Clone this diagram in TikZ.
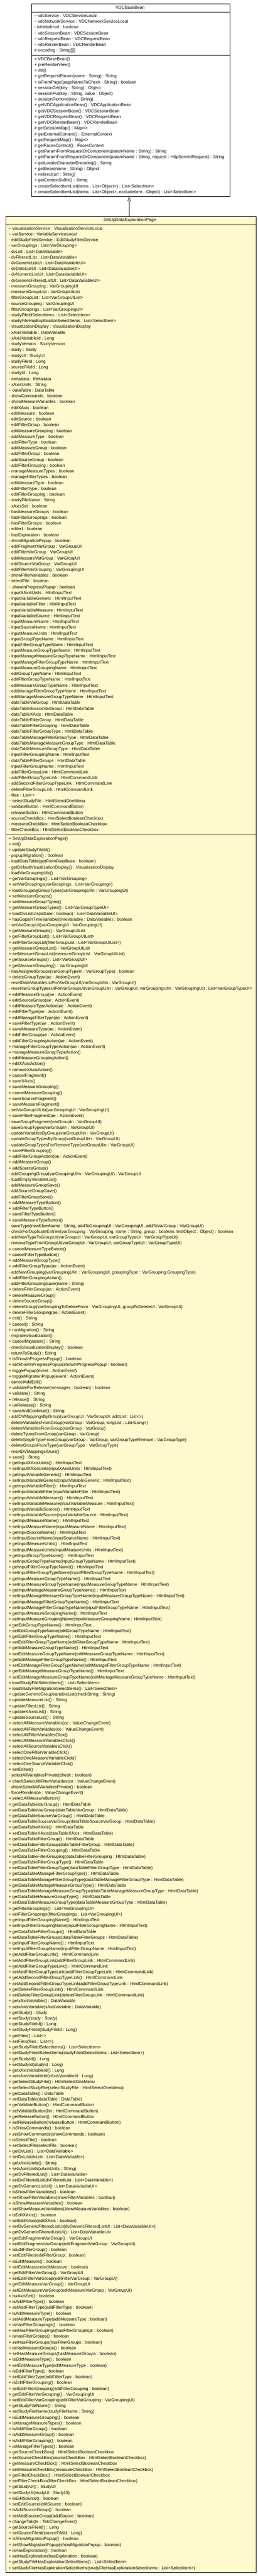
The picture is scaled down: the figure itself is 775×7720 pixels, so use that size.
\documentclass[tikz,border=0pt]{standalone}
\usepackage{fontspec}
\setmainfont{Liberation Sans}
\usetikzlibrary{arrows.meta}
\definecolor{beanYellow}{RGB}{255,250,205}
\newcommand{\pkgvis}{\textasciitilde}

\begin{document}
\begin{tikzpicture}
[x=1pt, y=-1pt,
  classDecorate/.style={draw=black, line width=1pt, inner sep=0pt, anchor=north west},%
  nameDecorate/.style={anchor=base, inner sep=0pt, font=\fontsize{12.9}{15}\selectfont},%
  memberDecorate/.style={anchor=base west, inner sep=0pt, font=\fontsize{12.9}{15}\selectfont},%
  lineDecorate/.style={line width=1pt},%
  inheritDecorate/.style={-{Triangle[open,length=13pt,width=10pt]}, line width=1pt}]
\fill[white] (0,0) rectangle (775,7720);
\useasboundingbox (0,0) rectangle (775,7720);

%% class boxes
\node (VDCBaseBean) at (93.5,10.7) [classDecorate, fill=white,
  minimum width=596.5pt, minimum height=578pt] {};
\node (SetUpDataExplorationPage) at (17,648) [classDecorate, fill=beanYellow,
  minimum width=751.5pt, minimum height=7061pt] {};

%% compartment lines
\draw[lineDecorate] (93.5,35.7) -- (690,35.7);
\draw[lineDecorate] (93.5,165) -- (690,165);
\draw[lineDecorate] (17,673) -- (768.5,673);
\draw[lineDecorate] (17,2501) -- (768.5,2501);

%% class names
\node (VDCBaseBean-name) at (391,26.5) [nameDecorate] {VDCBaseBean};
\node (SetUpDataExplorationPage-name) at (390,663.5) [nameDecorate] {SetUpDataExplorationPage};

%% VDCBaseBean attributes
\foreach \member [count=\n] in {
  {\pkgvis{} vdcService : VDCServiceLocal},
  {\pkgvis{} vdcNetworkService : VDCNetworkServiceLocal},
  {- isInititalized : boolean},
  {\pkgvis{} vdcSessionBean : VDCSessionBean},
  {\pkgvis{} vdcRequestBean : VDCRequestBean},
  {\pkgvis{} vdcRenderBean : VDCRenderBean},
  {\# encoding : String[][]}}
{
  \node (base-attr\n) at (103,{51.5+(\n-1)*17.335}) [memberDecorate] {\member};
}

%% VDCBaseBean operations
\foreach \member [count=\n] in {
  {+ VDCBaseBean()},
  {+ preRenderView()},
  {+ init()},
  {+ getRequestParam(name : String) : String},
  {+ isFromPage(pageNameToCheck : String) : boolean},
  {+ sessionGet(key : String) : Object},
  {+ sessionPut(key : String, value : Object)},
  {+ sessionRemove(key : String)},
  {+ getVDCApplicationBean() : VDCApplicationBean},
  {+ getVDCSessionBean() : VDCSessionBean},
  {+ getVDCRequestBean() : VDCRequestBean},
  {+ getVDCRenderBean() : VDCRenderBean},
  {\# getSessionMap() : Map<>},
  {\# getExternalContext() : ExternalContext},
  {\# getRequestMap() : Map<>},
  {\# getFacesContext() : FacesContext},
  {+ getParamFromRequestOrComponent(paramName : String) : String},
  {+ getParamFromRequestOrComponent(paramName : String, request : HttpServletRequest) : String},
  {+ getLocaleCharacterEncoding() : String},
  {+ getBean(name : String) : Object},
  {+ redirect(url : String)},
  {+ getContextSuffix() : String},
  {+ createSelectItemList(items : List<Object>) : List<SelectItem>},
  {+ createSelectItemList(items : List<Object>, excludeItem : Object) : List<SelectItem>}}
{
  \node (base-op\n) at (103,{180.8+(\n-1)*17.335}) [memberDecorate] {\member};
}

%% SetUpDataExplorationPage attributes
\foreach \member [count=\n] in {
  {\pkgvis{} visualizationService : VisualizationServiceLocal},
  {\pkgvis{} varService : VariableServiceLocal},
  {- editStudyFilesService : EditStudyFilesService},
  {- varGroupings : List<VarGrouping>},
  {- dvList : List<DataVariable>},
  {- dvFilteredList : List<DataVariable>},
  {- dvGenericListUI : List<DataVariableUI>},
  {- dvDateListUI : List<DataVariableUI>},
  {- dvNumericListUI : List<DataVariableUI>},
  {- dvGenericFilteredListUI : List<DataVariableUI>},
  {- measureGrouping : VarGroupingUI},
  {- measureGroupList : VarGroupUIList},
  {- filterGroupList : List<VarGroupUIList>},
  {- sourceGrouping : VarGroupingUI},
  {- filterGroupings : List<VarGroupingUI>},
  {- studyFileIdSelectItems : List<SelectItem>},
  {- studyFileHasExplorationSelectItems : List<SelectItem>},
  {- visualizationDisplay : VisualizationDisplay},
  {- xAxisVariable : DataVariable},
  {- xAxisVariableId : Long},
  {- studyVersion : StudyVersion},
  {- study : Study},
  {- studyUI : StudyUI},
  {- studyFileId : Long},
  {- sourceFileId : Long},
  {- studyId : Long},
  {- metadata : Metadata},
  {- xAxisUnits : String},
  {\pkgvis{} dataTable : DataTable},
  {- showCommands : boolean},
  {- showMeasureVariables : boolean},
  {- editXAxis : boolean},
  {- editMeasure : boolean},
  {- editSource : boolean},
  {- editFilterGroup : boolean},
  {- editMeasureGrouping : boolean},
  {- addMeasureType : boolean},
  {- addFilterType : boolean},
  {- addMeasureGroup : boolean},
  {- addFilterGroup : boolean},
  {- addSourceGroup : boolean},
  {- addFilterGrouping : boolean},
  {- manageMeasureTypes : boolean},
  {- manageFilterTypes : boolean},
  {- editMeasureType : boolean},
  {- editFilterType : boolean},
  {- editFilterGrouping : boolean},
  {- studyFileName : String},
  {- xAxisSet : boolean},
  {- hasMeasureGroups : boolean},
  {- hasFilterGroupings : boolean},
  {- hasFilterGroups : boolean},
  {- edited : boolean},
  {- hasExploration : boolean},
  {- showMigrationPopup : boolean},
  {- editFragmentVarGroup : VarGroupUI},
  {- editFilterVarGroup : VarGroupUI},
  {- editMeasureVarGroup : VarGroupUI},
  {- editSourceVarGroup : VarGroupUI},
  {- editFilterVarGrouping : VarGroupingUI},
  {- showFilterVariables : boolean},
  {- selectFile : boolean},
  {\pkgvis{} showInProgressPopup : boolean},
  {- inputXAxisUnits : HtmlInputText},
  {- inputVariableGeneric : HtmlInputText},
  {- inputVariableFilter : HtmlInputText},
  {- inputVariableMeasure : HtmlInputText},
  {- inputVariableSource : HtmlInputText},
  {- inputMeasureName : HtmlInputText},
  {- inputSourceName : HtmlInputText},
  {- inputMeasureUnits : HtmlInputText},
  {- inputGroupTypeName : HtmlInputText},
  {- inputFilterGroupTypeName : HtmlInputText},
  {- inputMeasureGroupTypeName : HtmlInputText},
  {- inputManageMeasureGroupTypeName : HtmlInputText},
  {- inputManageFilterGroupTypeName : HtmlInputText},
  {- inputMeasureGroupingName : HtmlInputText},
  {- editGroupTypeName : HtmlInputText},
  {- editFilterGroupTypeName : HtmlInputText},
  {- editMeasureGroupTypeName : HtmlInputText},
  {- editManageFilterGroupTypeName : HtmlInputText},
  {- editManageMeasureGroupTypeName : HtmlInputText},
  {- dataTableVarGroup : HtmlDataTable},
  {- dataTableSourceVarGroup : HtmlDataTable},
  {- dataTableXAxis : HtmlDataTable},
  {- dataTableFilterGroup : HtmlDataTable},
  {- dataTableFilterGrouping : HtmlDataTable},
  {- dataTableFilterGroupType : HtmlDataTable},
  {- dataTableManageFilterGroupType : HtmlDataTable},
  {- dataTableManageMeasureGroupType : HtmlDataTable},
  {- dataTableMeasureGroupType : HtmlDataTable},
  {- inputFilterGroupingName : HtmlInputText},
  {- dataTableFilterGroups : HtmlDataTable},
  {- inputFilterGroupName : HtmlInputText},
  {- addFilterGroupLink : HtmlCommandLink},
  {- addFilterGroupTypeLink : HtmlCommandLink},
  {- addSecondFilterGroupTypeLink : HtmlCommandLink},
  {- deleteFilterGroupLink : HtmlCommandLink},
  {- files : List<>},
  {\pkgvis{} selectStudyFile : HtmlSelectOneMenu},
  {- validateButton : HtmlCommandButton},
  {- releaseButton : HtmlCommandButton},
  {- sourceCheckBox : HtmlSelectBooleanCheckbox},
  {- measureCheckBox : HtmlSelectBooleanCheckbox},
  {- filterCheckBox : HtmlSelectBooleanCheckbox}}
{
  \node (page-attr\n) at (26,{688.8+(\n-1)*17.335}) [memberDecorate] {\member};
}

%% SetUpDataExplorationPage operations
\foreach \member [count=\n] in {
  {+ SetUpDataExplorationPage()},
  {+ init()},
  {+ updateStudyFileId()},
  {- popupMigration() : boolean},
  {- loadDataTable(getFromDataBase : boolean)},
  {- getDefaultVisualizationDisplay() : VisualizationDisplay},
  {- loadVarGroupingUIs()},
  {+ getVarGroupings() : List<VarGrouping>},
  {+ setVarGroupings(varGroupings : List<VarGrouping>)},
  {+ loadGroupingGroupTypes(varGroupingUIIn : VarGroupingUI)},
  {+ setMeasureGroups()},
  {+ setMeasureGroupTypes()},
  {+ getMeasureGroupTypes() : List<VarGroupTypeUI>},
  {+ loadDvListUIs(isDate : boolean) : List<DataVariableUI>},
  {+ hasGapsInTimeVariable(timeVariable : DataVariable) : boolean},
  {- setVarGroupUI(varGroupingUI : VarGroupingUI)},
  {+ getMeasureGroups() : VarGroupUIList},
  {+ getFilterGroupList() : List<VarGroupUIList>},
  {+ setFilterGroupList(filterGroupList : List<VarGroupUIList>)},
  {+ getMeasureGroupList() : VarGroupUIList},
  {+ setMeasureGroupList(measureGroupList : VarGroupUIList)},
  {+ getSourceGroups() : List<VarGroupUI>},
  {+ getMeasureGrouping() : VarGroupingUI},
  {- hasAssignedGroups(varGroupTypeIn : VarGroupType) : boolean},
  {+ deleteGroupType(ae : ActionEvent)},
  {- resetDataVariableListForVarGroupUI(varGroupUIin : VarGroupUI)},
  {- resetVarGroupTypesUIForVarGroupUI(varGroupUIin : VarGroupUI, varGroupingUIin : VarGroupingUI) : List<VarGroupTypeUI>},
  {+ editMeasureGroup(ae : ActionEvent)},
  {+ editSourceGroup(ae : ActionEvent)},
  {+ editMeasureTypeAction(ae : ActionEvent)},
  {+ editFilterType(ae : ActionEvent)},
  {+ editManageFilterType(ae : ActionEvent)},
  {+ saveFilterType(ae : ActionEvent)},
  {+ saveMeasureType(ae : ActionEvent)},
  {+ editFilterGroup(ae : ActionEvent)},
  {+ editFilterGroupingAction(ae : ActionEvent)},
  {+ manageFilterGroupTypeAction(ae : ActionEvent)},
  {+ manageMeasureGroupTypeAction()},
  {+ editMeasureGroupingAction()},
  {+ editXAxisAction()},
  {+ removeXAxisAction()},
  {+ cancelFragment()},
  {+ saveXAxis()},
  {+ saveMeasureGrouping()},
  {+ cancelMeasureGrouping()},
  {+ saveSourceFragment()},
  {+ saveMeasureFragment()},
  {- setVarGroupUIList(varGroupingUI : VarGroupingUI)},
  {+ saveFilterFragment(ae : ActionEvent)},
  {- saveGroupFragment(varGroupIn : VarGroupUI)},
  {- saveGroupTypes(varGroupIn : VarGroupUI)},
  {- updateVariablesByGroup(varGroupUIin : VarGroupUI)},
  {- updateGroupTypesByGroup(varGroupUIin : VarGroupUI)},
  {- updateGroupTypesForRemoveType(varGroupUIin : VarGroupUI)},
  {+ saveFilterGrouping()},
  {+ addFilterGroupAction(ae : ActionEvent)},
  {+ addMeasureGroup()},
  {+ addSourceGroup()},
  {- addGroupingGroup(varGroupingUIIn : VarGroupingUI) : VarGroupUI},
  {- loadEmptyVariableList()},
  {- addMeasureGroupSave()},
  {- addSourceGroupSave()},
  {- addFilterGroupSave()},
  {+ addMeasureTypeButton()},
  {+ addFilterTypeButton()},
  {+ saveFilterTypeButton()},
  {+ saveMeasureTypeButton()},
  {- saveType(newElemName : String, addToGroupingUI : VarGroupingUI, addToVarGroup : VarGroupUI)},
  {- checkForDuplicateEntries(varGrouping : VarGrouping, name : String, group : boolean, testObject : Object) : boolean},
  {- addNewTypeToGroupUI(varGroupUI : VarGroupUI, varGroupTypeUI : VarGroupTypeUI)},
  {- removeTypeFromGroupUI(varGroupUI : VarGroupUI, varGroupTypeUI : VarGroupTypeUI)},
  {+ cancelMeasureTypeButton()},
  {+ cancelFilterTypeButton()},
  {+ addMeasureGroupType()},
  {+ addFilterGroupType(ae : ActionEvent)},
  {- addNewGrouping(varGroupingUIin : VarGroupingUI, groupingType : VarGrouping.GroupingType)},
  {+ addFilterGroupingAction()},
  {- addFilterGroupingSave(name : String)},
  {+ deleteFilterGroup(ae : ActionEvent)},
  {+ deleteMeasureGroup()},
  {+ deleteSourceGroup()},
  {+ deleteGroup(varGroupingToDeleteFrom : VarGroupingUI, groupToDeleteUI : VarGroupUI)},
  {+ deleteFilterGrouping(ae : ActionEvent)},
  {+ exit() : String},
  {+ cancel() : String},
  {+ runMigration() : String},
  {- migrateVisualization()},
  {+ cancelMigration() : String},
  {- checkVisualizationDisplay() : boolean},
  {- returnToStudy() : String},
  {+ isShowInProgressPopup() : boolean},
  {+ setShowInProgressPopup(showInProgressPopup : boolean)},
  {+ togglePopup(event : ActionEvent)},
  {+ toggleMigrationPopup(event : ActionEvent)},
  {- cancelAddEdit()},
  {+ validateForRelease(messages : boolean) : boolean},
  {+ validate() : String},
  {+ release() : String},
  {+ unRelease() : String},
  {+ saveAndContinue() : String},
  {- addDVMappingsByGroup(varGroupUI : VarGroupUI, addList : List<>)},
  {- deleteVariablesFromGroup(varGroup : VarGroup, longList : List<Long>)},
  {- deleteVariablesFromGroup(varGroup : VarGroup)},
  {- deleteTypesFromGroup(varGroup : VarGroup)},
  {- deleteSingleTypeFromGroup(varGroup : VarGroup, varGroupTypeRemove : VarGroupType)},
  {- deleteGroupsFromType(varGroupType : VarGroupType)},
  {- resetDVMappingsXAxis()},
  {+ save() : String},
  {+ getInputXAxisUnits() : HtmlInputText},
  {+ setInputXAxisUnits(inputXAxisUnits : HtmlInputText)},
  {+ getInputVariableGeneric() : HtmlInputText},
  {+ setInputVariableGeneric(inputVariableGeneric : HtmlInputText)},
  {+ getInputVariableFilter() : HtmlInputText},
  {+ setInputVariableFilter(inputVariableFilter : HtmlInputText)},
  {+ getInputVariableMeasure() : HtmlInputText},
  {+ setInputVariableMeasure(inputVariableMeasure : HtmlInputText)},
  {+ getInputVariableSource() : HtmlInputText},
  {+ setInputVariableSource(inputVariableSource : HtmlInputText)},
  {+ getInputMeasureName() : HtmlInputText},
  {+ setInputMeasureName(inputMeasureName : HtmlInputText)},
  {+ getInputSourceName() : HtmlInputText},
  {+ setInputSourceName(inputSourceName : HtmlInputText)},
  {+ getInputMeasureUnits() : HtmlInputText},
  {+ setInputMeasureUnits(inputMeasureUnits : HtmlInputText)},
  {+ getInputGroupTypeName() : HtmlInputText},
  {+ setInputGroupTypeName(inputGroupTypeName : HtmlInputText)},
  {+ getInputFilterGroupTypeName() : HtmlInputText},
  {+ setInputFilterGroupTypeName(inputFilterGroupTypeName : HtmlInputText)},
  {+ getInputMeasureGroupTypeName() : HtmlInputText},
  {+ setInputMeasureGroupTypeName(inputMeasureGroupTypeName : HtmlInputText)},
  {+ getInputManageMeasureGroupTypeName() : HtmlInputText},
  {+ setInputManageMeasureGroupTypeName(inputMeasureGroupTypeName : HtmlInputText)},
  {+ getInputManageFilterGroupTypeName() : HtmlInputText},
  {+ setInputManageFilterGroupTypeName(inputFilterGroupTypeName : HtmlInputText)},
  {+ getInputMeasureGroupingName() : HtmlInputText},
  {+ setInputMeasureGroupingName(inputMeasureGroupingName : HtmlInputText)},
  {+ getEditGroupTypeName() : HtmlInputText},
  {+ setEditGroupTypeName(editGroupTypeName : HtmlInputText)},
  {+ getEditFilterGroupTypeName() : HtmlInputText},
  {+ setEditFilterGroupTypeName(editFilterGroupTypeName : HtmlInputText)},
  {+ getEditMeasureGroupTypeName() : HtmlInputText},
  {+ setEditMeasureGroupTypeName(editMeasureGroupTypeName : HtmlInputText)},
  {+ getEditManageFilterGroupTypeName() : HtmlInputText},
  {+ setEditManageFilterGroupTypeName(editManageFilterGroupTypeName : HtmlInputText)},
  {+ getEditManageMeasureGroupTypeName() : HtmlInputText},
  {+ setEditManageMeasureGroupTypeName(editManageMeasureGroupTypeName : HtmlInputText)},
  {+ loadStudyFileSelectItems() : List<SelectItem>},
  {+ loadStudyFileMigrationSelectItems() : List<SelectItem>},
  {+ updateGenericGroupVariableList(checkString : String)},
  {+ updateMeasureList() : String},
  {+ updateFilterList() : String},
  {+ updateXAxisList() : String},
  {+ updateSourceList() : String},
  {+ selectAllMeasureVariables(ce : ValueChangeEvent)},
  {+ selectAllFilterVariables(ce : ValueChangeEvent)},
  {+ selectAllFilterVariablesClick()},
  {+ selectAllMeasureVariablesClick()},
  {+ selectAllSourceVariablesClick()},
  {+ selectOneFilterVariableClick()},
  {+ selectOneMeasureVariableClick()},
  {+ selectOneSourceVariableClick()},
  {+ setEdited()},
  {- selectAllVariablesPrivate(check : boolean)},
  {+ checkSelectAllFilterVariables(ce : ValueChangeEvent)},
  {- checkSelectAllVariablesPrivate() : boolean},
  {- forceRender(ce : ValueChangeEvent)},
  {+ selectAllMeasureButton()},
  {+ getDataTableVarGroup() : HtmlDataTable},
  {+ setDataTableVarGroup(dataTableVarGroup : HtmlDataTable)},
  {+ getDataTableSourceVarGroup() : HtmlDataTable},
  {+ setDataTableSourceVarGroup(dataTableSourceVarGroup : HtmlDataTable)},
  {+ getDataTableXAxis() : HtmlDataTable},
  {+ setDataTableXAxis(dataTableXAxis : HtmlDataTable)},
  {+ getDataTableFilterGroup() : HtmlDataTable},
  {+ setDataTableFilterGroup(dataTableFilterGroup : HtmlDataTable)},
  {+ getDataTableFilterGrouping() : HtmlDataTable},
  {+ setDataTableFilterGrouping(dataTableFilterGrouping : HtmlDataTable)},
  {+ getDataTableFilterGroupType() : HtmlDataTable},
  {+ setDataTableFilterGroupType(dataTableFilterGroupType : HtmlDataTable)},
  {+ getDataTableManageFilterGroupType() : HtmlDataTable},
  {+ setDataTableManageFilterGroupType(dataTableManageFilterGroupType : HtmlDataTable)},
  {+ getDataTableManageMeasureGroupType() : HtmlDataTable},
  {+ setDataTableManageMeasureGroupType(dataTableManageMeasureGroupType : HtmlDataTable)},
  {+ getDataTableMeasureGroupType() : HtmlDataTable},
  {+ setDataTableMeasureGroupType(dataTableMeasureGroupType : HtmlDataTable)},
  {+ getFilterGroupings() : List<VarGroupingUI>},
  {+ setFilterGroupings(filterGroupings : List<VarGroupingUI>)},
  {+ getInputFilterGroupingName() : HtmlInputText},
  {+ setInputFilterGroupingName(inputFilterGroupingName : HtmlInputText)},
  {+ getDataTableFilterGroups() : HtmlDataTable},
  {+ setDataTableFilterGroups(dataTableFilterGroups : HtmlDataTable)},
  {+ getInputFilterGroupName() : HtmlInputText},
  {+ setInputFilterGroupName(inputFilterGroupName : HtmlInputText)},
  {+ getAddFilterGroupLink() : HtmlCommandLink},
  {+ setAddFilterGroupLink(addFilterGroupLink : HtmlCommandLink)},
  {+ getAddFilterGroupTypeLink() : HtmlCommandLink},
  {+ setAddFilterGroupTypeLink(addFilterGroupTypeLink : HtmlCommandLink)},
  {+ getAddSecondFilterGroupTypeLink() : HtmlCommandLink},
  {+ setAddSecondFilterGroupTypeLink(addFilterGroupTypeLink : HtmlCommandLink)},
  {+ getDeleteFilterGroupLink() : HtmlCommandLink},
  {+ setDeleteFilterGroupLink(deleteFilterGroupLink : HtmlCommandLink)},
  {+ getxAxisVariable() : DataVariable},
  {+ setxAxisVariable(xAxisVariable : DataVariable)},
  {+ getStudy() : Study},
  {+ setStudy(study : Study)},
  {+ getStudyFileId() : Long},
  {+ setStudyFileId(studyFileId : Long)},
  {+ getFiles() : List<>},
  {+ setFiles(files : List<>)},
  {+ getStudyFileIdSelectItems() : List<SelectItem>},
  {+ setStudyFileIdSelectItems(studyFileIdSelectItems : List<SelectItem>)},
  {+ getStudyId() : Long},
  {+ setStudyId(studyId : Long)},
  {+ getxAxisVariableId() : Long},
  {+ setxAxisVariableId(xAxisVariableId : Long)},
  {+ getSelectStudyFile() : HtmlSelectOneMenu},
  {+ setSelectStudyFile(selectStudyFile : HtmlSelectOneMenu)},
  {+ getDataTable() : DataTable},
  {+ setDataTable(dataTable : DataTable)},
  {+ getValidateButton() : HtmlCommandButton},
  {+ setValidateButton(hit : HtmlCommandButton)},
  {+ getReleaseButton() : HtmlCommandButton},
  {+ setReleaseButton(releaseButton : HtmlCommandButton)},
  {+ isShowCommands() : boolean},
  {+ setShowCommands(showCommands : boolean)},
  {+ isSelectFile() : boolean},
  {+ setSelectFile(selectFile : boolean)},
  {+ getDvList() : List<DataVariable>},
  {+ setDvList(dvList : List<DataVariable>)},
  {+ getxAxisUnits() : String},
  {+ setxAxisUnits(xAxisUnits : String)},
  {+ getDvFilteredList() : List<DataVariable>},
  {+ setDvFilteredList(dvFilteredList : List<DataVariable>)},
  {+ getDvGenericListUI() : List<DataVariableUI>},
  {+ isShowFilterVariables() : boolean},
  {+ setShowFilterVariables(showFilterVariables : boolean)},
  {+ isShowMeasureVariables() : boolean},
  {+ setShowMeasureVariables(showMeasureVariables : boolean)},
  {+ isEditXAxis() : boolean},
  {+ setEditXAxis(editXAxis : boolean)},
  {+ setDvGenericFilteredListUI(dvGenericFilteredListUI : List<DataVariableUI>)},
  {+ getDvGenericFilteredListUI() : List<DataVariableUI>},
  {+ getEditFragmentVarGroup() : VarGroupUI},
  {+ setEditFragmentVarGroup(editFragmentVarGroup : VarGroupUI)},
  {+ isEditFilterGroup() : boolean},
  {+ setEditFilter(editFilterGroup : boolean)},
  {+ isEditMeasure() : boolean},
  {+ setEditMeasure(editMeasure : boolean)},
  {+ getEditFilterVarGroup() : VarGroupUI},
  {+ setEditFilterVarGroup(editFilterVarGroup : VarGroupUI)},
  {+ getEditMeasureVarGroup() : VarGroupUI},
  {+ setEditMeasureVarGroup(editMeasureVarGroup : VarGroupUI)},
  {+ isxAxisSet() : boolean},
  {+ isAddFilterType() : boolean},
  {+ setAddFilterType(addFilterType : boolean)},
  {+ isAddMeasureType() : boolean},
  {+ setAddMeasureType(addMeasureType : boolean)},
  {+ isHasFilterGroupings() : boolean},
  {+ setHasFilterGroupings(hasFilterGroupings : boolean)},
  {+ isHasFilterGroups() : boolean},
  {+ setHasFilterGroups(hasFilterGroups : boolean)},
  {+ isHasMeasureGroups() : boolean},
  {+ setHasMeasureGroups(hasMeasureGroups : boolean)},
  {+ isEditMeasureType() : boolean},
  {+ setEditMeasureType(editMeasureType : boolean)},
  {+ isEditFilterType() : boolean},
  {+ setEditFilterType(editFilterType : boolean)},
  {+ isEditFilterGrouping() : boolean},
  {+ setEditFilterGrouping(editFilterGrouping : boolean)},
  {+ getEditFilterVarGrouping() : VarGroupingUI},
  {+ setEditFilterVarGrouping(editFilterVarGrouping : VarGroupingUI)},
  {+ getStudyFileName() : String},
  {+ setStudyFileName(studyFileName : String)},
  {+ isEditMeasureGrouping() : boolean},
  {+ isManageMeasureTypes() : boolean},
  {+ isAddFilterGroup() : boolean},
  {+ isAddMeasureGroup() : boolean},
  {+ isAddFilterGrouping() : boolean},
  {+ isManageFilterTypes() : boolean},
  {+ getSourceCheckBox() : HtmlSelectBooleanCheckbox},
  {+ setSourceCheckBox(sourceCheckBox : HtmlSelectBooleanCheckbox)},
  {+ getMeasureCheckBox() : HtmlSelectBooleanCheckbox},
  {+ setMeasureCheckBox(measureCheckBox : HtmlSelectBooleanCheckbox)},
  {+ getFilterCheckBox() : HtmlSelectBooleanCheckbox},
  {+ setFilterCheckBox(filterCheckBox : HtmlSelectBooleanCheckbox)},
  {+ getStudyUI() : StudyUI},
  {+ setStudyUI(studyUI : StudyUI)},
  {+ isEditSource() : boolean},
  {+ setEditSource(editSource : boolean)},
  {+ isAddSourceGroup() : boolean},
  {+ setAddSourceGroup(addSource : boolean)},
  {+ changeTab(te : TabChangeEvent)},
  {+ getSourceFileId() : Long},
  {+ setSourceFileId(sourceFileId : Long)},
  {+ isShowMigrationPopup() : boolean},
  {+ setShowMigrationPopup(showMigrationPopup : boolean)},
  {+ isHasExploration() : boolean},
  {+ setHasExploration(hasExploration : boolean)},
  {+ getStudyFileHasExplorationSelectItems() : List<SelectItem>},
  {+ setStudyFileHasExplorationSelectItems(studyFileHasExplorationSelectItems : List<SelectItem>)}}
{
  \node (page-op\n) at (26,{2516.8+(\n-1)*17.335}) [memberDecorate] {\member};
}

%% generalization
\coordinate (extends-foot) at (388,648);
\draw[inheritDecorate] (extends-foot) -- (extends-foot |- VDCBaseBean.south);
\end{tikzpicture}
\end{document}
